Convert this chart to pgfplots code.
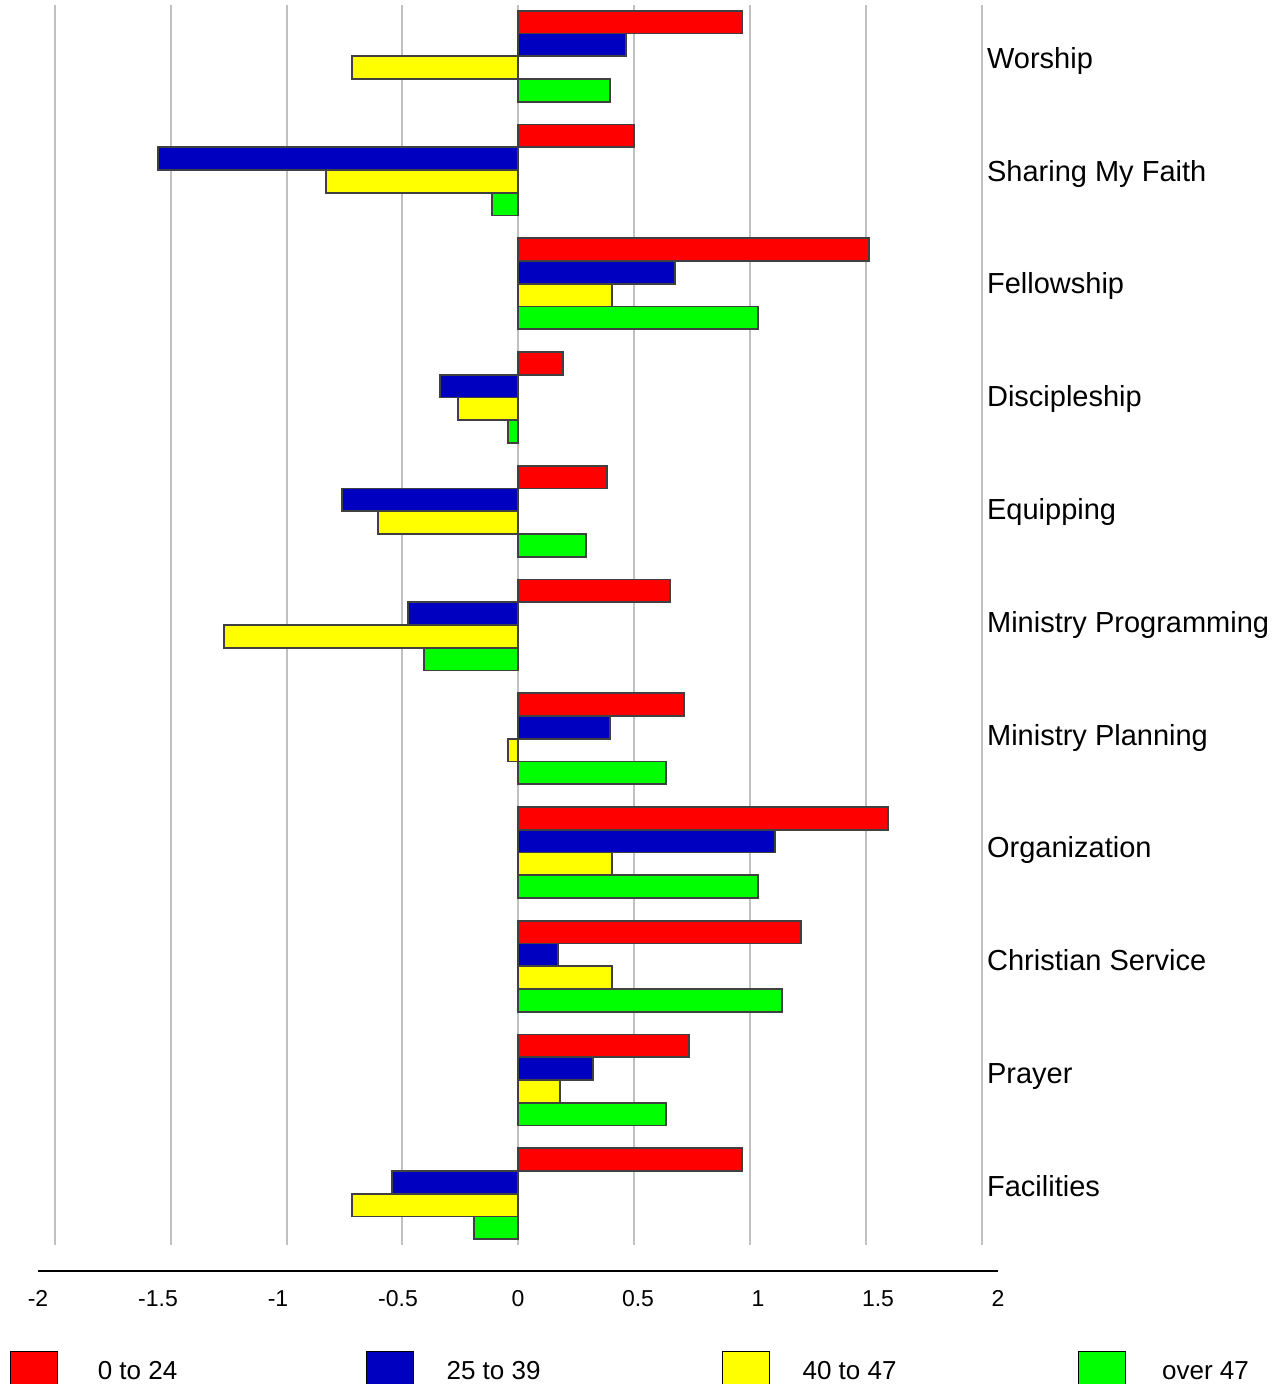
\documentclass[border=0pt]{standalone}
\usepackage{pgfplots}
\pgfplotsset{compat=1.18}
\usepackage{pgfplotstable}
\usepackage{fontspec}
\setmainfont{Liberation Sans}
\definecolor{barred}{HTML}{FF0000}
\definecolor{barblue}{HTML}{0000C0}
\definecolor{baryellow}{HTML}{FFFF00}
\definecolor{bargreen}{HTML}{00FF00}
\definecolor{edge}{HTML}{404040}
\definecolor{gridgray}{HTML}{C0C0C0}

\pgfplotstableread{
idx r b yl g
0 0.968 0.465 -0.717 0.396
1 0.500 -1.555 -0.830 -0.112
2 1.514 0.676 0.404 1.034
3 0.193 -0.338 -0.260 -0.044
4 0.383 -0.761 -0.606 0.292
5 0.655 -0.476 -1.270 -0.407
6 0.715 0.396 -0.044 0.637
7 1.595 1.108 0.404 1.034
8 1.220 0.170 0.404 1.138
9 0.737 0.322 0.180 0.637
10 0.967 -0.546 -0.718 -0.191
}\data

\pgfplotsset{
  mybar/.style={xbar, bar width=0.2, draw=edge, line width=0.9pt,
    legend image code/.code={\draw[##1,draw=black,line width=0.5pt] (0pt,-11.75pt) rectangle (23.5pt,11.75pt);}},
}

\begin{document}
\begin{tikzpicture}
\useasboundingbox (0,0) rectangle (638.5pt,-692pt);
\begin{axis}[
  at={(27.45pt,-2.5pt)}, anchor=north west,
  scale only axis, width=463.4pt, height=620pt,
  xmin=-2, xmax=2, ymin=-0.45, ymax=10.45, y dir=reverse,
  xtick={-2,-1.5,-1,-0.5,0,0.5,1,1.5,2}, xticklabels={},
  xmajorgrids, grid style={gridgray, line width=1pt},
  ytick={0,0.9916,1.9831,2.9747,3.9662,4.9578,5.9494,6.9409,7.9325,8.9240,9.9156},
  yticklabels={Worship,Sharing My Faith,Fellowship,Discipleship,Equipping,Ministry Programming,Ministry Planning,Organization,Christian Service,Prayer,Facilities},
  yticklabel pos=right,
  yticklabel style={anchor=base west, inner sep=0pt, xshift=2.5pt, yshift=-6pt, font=\fontsize{14.5}{17}\selectfont},
  axis line style={draw=none},
  major tick length=0pt,
  clip=false,
  legend columns=4,
  legend style={at={(-0.0484,-0.0855)}, anchor=north west, draw=none, fill=none,
    inner sep=0pt, outer sep=0pt, font=\fontsize{13}{15}\selectfont,
    /tikz/every odd column/.append style={column sep=4pt},
    /tikz/every even column/.append style={column sep=78.5pt}},
  legend cell align=left,
]
\addplot[mybar, bar shift=-0.3, fill=barred] table[x=r, y=idx]{\data};
\addplot[mybar, bar shift=-0.1, fill=barblue] table[x=b, y=idx]{\data};
\addplot[mybar, bar shift=0.1, fill=baryellow] table[x=yl, y=idx]{\data};
\addplot[mybar, bar shift=0.3, fill=bargreen] table[x=g, y=idx]{\data};
\addlegendentry{\raisebox{2.75pt}{\makebox[67.5pt][c]{0 to 24}}}
\addlegendentry{\raisebox{2.75pt}{\makebox[67.5pt][c]{25 to 39}}}
\addlegendentry{\raisebox{2.75pt}{\makebox[67.5pt][c]{40 to 47}}}
\addlegendentry{\raisebox{2.75pt}{\makebox[67.5pt][c]{over 47}}}
\end{axis}
\begin{axis}[
  at={(19pt,-635.35pt)}, anchor=south west,
  scale only axis, width=480pt, height=10pt,
  xmin=-2, xmax=2, ymin=0, ymax=1,
  axis x line*=bottom, hide y axis,
  axis line style={black, line width=1pt},
  xtick={-2,-1.5,-1,-0.5,0,0.5,1,1.5,2},
  xticklabels={-2,-1.5,-1,-0.5,0,0.5,1,1.5,2},
  major tick length=0pt,
  xticklabel style={anchor=base, yshift=-18pt, font=\fontsize{11.5}{13}\selectfont},
]
\end{axis}
\end{tikzpicture}
\end{document}
